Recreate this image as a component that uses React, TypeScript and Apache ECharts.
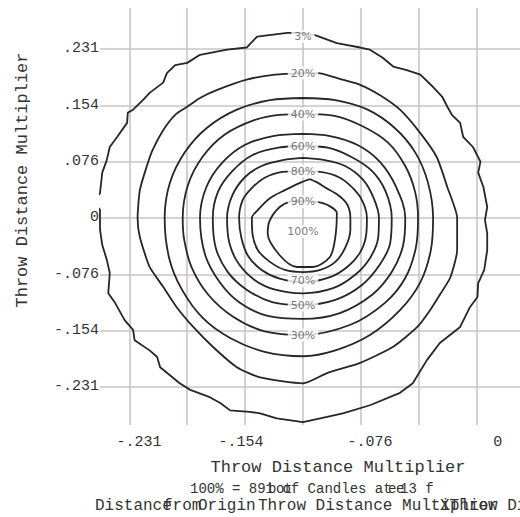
import React, { useEffect, useRef } from 'react';
import * as echarts from 'echarts';

// Grid tick values (Throw Distance Multiplier) and their printed labels
const gridTicks = [-0.231, -0.154, -0.077, 0, 0.077, 0.154, 0.231];
const yTickLabels = ['-.231', '-.154', '-.076', '0', '.076', '.154', '.231'];
// x tick labels as printed (their positions along the axis)
const xLabelValues = [-0.218, -0.0825, 0.089, 0.259];
const xTickLabels = ['-.231', '-.154', '-.076', '0'];

// Contour rings, outermost to innermost: [x, y]
const contour1: [number, number][] = [
  [-0.004, 0.253], [0.016, 0.25], [0.045, 0.239], [0.076, 0.233], [0.089, 0.23], [0.106, 0.219],
  [0.12, 0.207], [0.138, 0.202], [0.156, 0.196], [0.173, 0.179], [0.185, 0.166], [0.192, 0.152],
  [0.198, 0.141], [0.209, 0.13], [0.213, 0.111], [0.226, 0.097], [0.236, 0.077], [0.233, 0.062],
  [0.24, 0.042], [0.245, 0.015], [0.242, -0.003], [0.245, -0.021], [0.245, -0.044], [0.241, -0.071],
  [0.233, -0.089], [0.232, -0.108], [0.222, -0.122], [0.209, -0.149], [0.182, -0.171], [0.165, -0.194],
  [0.146, -0.226], [0.129, -0.239], [0.089, -0.256], [0.053, -0.267], [0.032, -0.272], [0, -0.279],
  [-0.035, -0.274], [-0.057, -0.267], [-0.071, -0.265], [-0.097, -0.263], [-0.11, -0.253], [-0.124, -0.245],
  [-0.15, -0.235], [-0.164, -0.226], [-0.19, -0.204], [-0.194, -0.19], [-0.204, -0.181], [-0.224, -0.167],
  [-0.226, -0.153], [-0.237, -0.14], [-0.25, -0.116], [-0.259, -0.103], [-0.257, -0.075], [-0.261, -0.057],
  [-0.267, -0.037], [-0.27, -0.016], [-0.27, 0], [-0.27, 0.011], [-0.279, 0.022], [-0.27, 0.034],
  [-0.267, 0.062], [-0.261, 0.079], [-0.257, 0.097], [-0.247, 0.111], [-0.234, 0.13], [-0.233, 0.144],
  [-0.226, 0.148], [-0.213, 0.161], [-0.204, 0.171], [-0.186, 0.185], [-0.181, 0.198], [-0.17, 0.209],
  [-0.154, 0.212], [-0.137, 0.223], [-0.101, 0.23], [-0.075, 0.233], [-0.061, 0.248], [-0.021, 0.253],
];
const contour2: [number, number][] = [
  [0, 0.198], [0.02, 0.198], [0.049, 0.19], [0.076, 0.182], [0.102, 0.168], [0.129, 0.148],
  [0.156, 0.116], [0.178, 0.083], [0.192, 0.042], [0.205, 0], [0.205, -0.044], [0.196, -0.081],
  [0.182, -0.105], [0.169, -0.126], [0.152, -0.149], [0.12, -0.176], [0.076, -0.198], [0.032, -0.212],
  [0, -0.226], [-0.057, -0.218], [-0.088, -0.204], [-0.12, -0.176], [-0.146, -0.149], [-0.168, -0.122],
  [-0.186, -0.094], [-0.204, -0.067], [-0.217, -0.026], [-0.22, 0], [-0.217, 0.038], [-0.208, 0.07],
  [-0.2, 0.093], [-0.186, 0.12], [-0.17, 0.141], [-0.154, 0.152], [-0.137, 0.164], [-0.114, 0.175],
  [-0.075, 0.189], [-0.037, 0.196],
];
const contour3: [number, number][] = [
  [0, 0.164], [0.043, 0.161], [0.086, 0.148], [0.122, 0.123], [0.149, 0.09], [0.166, 0.049],
  [0.173, 0], [0.17, -0.044], [0.156, -0.088], [0.129, -0.126], [0.089, -0.16], [0.043, -0.181],
  [0, -0.189], [-0.051, -0.183], [-0.097, -0.164], [-0.133, -0.137], [-0.161, -0.098], [-0.178, -0.055],
  [-0.184, 0], [-0.177, 0.048], [-0.157, 0.09], [-0.128, 0.123], [-0.088, 0.148], [-0.044, 0.161],
];
const contour4: [number, number][] = [
  [0, 0.142], [0.04, 0.14], [0.078, 0.126], [0.113, 0.103], [0.136, 0.071], [0.149, 0.036],
  [0.153, 0], [0.15, -0.041], [0.136, -0.082], [0.109, -0.116], [0.063, -0.146], [0, -0.16],
  [-0.051, -0.155], [-0.093, -0.135], [-0.126, -0.105], [-0.148, -0.068], [-0.158, -0.03], [-0.16, 0],
  [-0.153, 0.045], [-0.134, 0.083], [-0.104, 0.114], [-0.064, 0.134], [-0.031, 0.141],
];
const contour5: [number, number][] = [
  [0, 0.115], [0.036, 0.112], [0.072, 0.1], [0.102, 0.077], [0.124, 0.042], [0.136, 0],
  [0.133, -0.038], [0.118, -0.074], [0.092, -0.105], [0.049, -0.13], [0, -0.138], [-0.047, -0.134],
  [-0.084, -0.116], [-0.11, -0.089], [-0.13, -0.051], [-0.137, 0], [-0.129, 0.041], [-0.108, 0.075],
  [-0.077, 0.1], [-0.04, 0.112],
];
const contour6: [number, number][] = [
  [0, 0.098], [0.033, 0.096], [0.065, 0.083], [0.092, 0.064], [0.11, 0.036], [0.118, 0],
  [0.116, -0.034], [0.102, -0.064], [0.078, -0.092], [0.043, -0.112], [0, -0.119], [-0.041, -0.115],
  [-0.075, -0.098], [-0.1, -0.074], [-0.116, -0.041], [-0.12, 0], [-0.113, 0.036], [-0.094, 0.064],
  [-0.067, 0.086], [-0.033, 0.096],
];
const contour7: [number, number][] = [
  [0, 0.082], [0.029, 0.079], [0.056, 0.071], [0.08, 0.052], [0.094, 0.027], [0.101, 0],
  [0.1, -0.027], [0.089, -0.055], [0.069, -0.078], [0.04, -0.096], [0, -0.103], [-0.037, -0.098],
  [-0.064, -0.085], [-0.086, -0.062], [-0.098, -0.034], [-0.101, 0], [-0.094, 0.031], [-0.077, 0.056],
  [-0.055, 0.071], [-0.027, 0.079],
];
const contour8: [number, number][] = [
  [0, 0.064], [0.023, 0.063], [0.049, 0.055], [0.069, 0.038], [0.08, 0.021], [0.085, 0],
  [0.084, -0.023], [0.076, -0.047], [0.06, -0.066], [0.036, -0.081], [0, -0.088], [-0.031, -0.083],
  [-0.055, -0.071], [-0.073, -0.052], [-0.082, -0.027], [-0.085, 0], [-0.08, 0.025], [-0.068, 0.041],
  [-0.051, 0.055], [-0.027, 0.063],
];
const contour9: [number, number][] = [
  [0.009, 0.053], [-0.004, 0.048], [-0.024, 0.038], [-0.044, 0.027], [-0.06, 0.011], [-0.068, 0],
  [-0.067, -0.023], [-0.06, -0.044], [-0.044, -0.06], [-0.024, -0.071], [0, -0.074], [0.023, -0.071],
  [0.043, -0.06], [0.056, -0.041], [0.063, -0.016], [0.063, 0], [0.059, 0.018], [0.047, 0.031],
  [0.029, 0.042], [0.02, 0.048],
];
const contour10: [number, number][] = [
  [0, 0.023], [0.019, 0.022], [0.032, 0.018], [0.045, 0.007], [0.043, -0.026], [0.036, -0.053],
  [0.013, -0.067], [-0.008, -0.067], [-0.031, -0.051], [-0.047, -0.021], [-0.044, -0.003], [-0.031, 0.015],
  [-0.017, 0.022],
];
const contours = [contour1, contour2, contour3, contour4, contour5, contour6, contour7, contour8, contour9, contour10];
const contourSmooth = [0, 0.2, 0.35, 0.35, 0.35, 0.35, 0.35, 0.35, 0.3, 0.3];

// Contour labels and where they sit
const levelLabels = ['3%', '20%', '40%', '60%', '80%', '90%', '100%', '70%', '50%', '30%'];
const labelXs = [0, 0, 0, 0, 0, 0, 0, 0, 0, 0];
const labelYs = [0.248, 0.198, 0.142, 0.098, 0.064, 0.022, -0.019, -0.086, -0.119, -0.16];

const axisTitle = 'Throw Distance Multiplier';
const footerLine1 = '100% = 891 of Candles at 13 f';

const MONO = '"Liberation Mono", "DejaVu Sans Mono", monospace';

function labelFor(values: number[], labels: string[], v: number) {
  for (let i = 0; i < values.length; i++) {
    if (Math.abs(values[i] - v) < 1e-6) return labels[i];
  }
  return '';
}

export default function App() {
  const ref = useRef<HTMLDivElement>(null);
  useEffect(() => {
    if (!ref.current) return;
    const chart = echarts.init(ref.current, undefined, { renderer: 'svg' });
    const gridColor = '#cbc4c2';
    const series: any[] = contours.map((pts, i) => ({
      type: 'line',
      name: 'c' + i,
      data: [...pts, pts[0]],
      symbol: 'none',
      showSymbol: false,
      smooth: contourSmooth[i],
      clip: false,
      silent: true,
      lineStyle: { color: '#262626', width: 1.8 },
      z: 2,
    }));
    series.push({
      type: 'scatter',
      data: levelLabels.map((t, i) => ({ name: t, value: [labelXs[i], labelYs[i]] })),
      symbolSize: 1,
      itemStyle: { color: 'rgba(255,255,255,0)' },
      silent: true,
      z: 10,
      label: {
        show: true,
        position: 'inside',
        formatter: (p: any) => p.name,
        backgroundColor: '#ffffff',
        color: '#555555',
        fontSize: 11,
        fontFamily: '"DejaVu Sans", sans-serif',
        padding: [1, 3, 1, 3],
      },
    });
    chart.setOption({
      animation: false,
      backgroundColor: '#ffffff',
      grid: { left: 100, right: 0, top: 8, bottom: 92, containLabel: false },
      xAxis: [
        {
          type: 'value',
          min: -0.27,
          max: 0.2886,
          axisLine: { show: false },
          axisTick: { show: false, customValues: gridTicks },
          axisLabel: { show: false },
          splitLine: { show: true, lineStyle: { color: gridColor, width: 1.6 } },
        },
        {
          type: 'value',
          min: -0.27,
          max: 0.2886,
          position: 'bottom',
          axisLine: { show: false },
          axisTick: { show: false, customValues: xLabelValues },
          splitLine: { show: false },
          axisLabel: {
            show: true,
            customValues: xLabelValues,
            margin: 10,
            color: '#333',
            fontSize: 15,
            fontFamily: MONO,
            formatter: (v: number) => labelFor(xLabelValues, xTickLabels, v),
          },
        },
      ],
      yAxis: {
        type: 'value',
        min: -0.283,
        max: 0.287,
        axisLine: { show: false },
        axisTick: { show: false, customValues: gridTicks },
        splitLine: { show: true, lineStyle: { color: gridColor, width: 1.6 } },
        axisLabel: {
          show: true,
          customValues: gridTicks,
          margin: 1,
          color: '#333',
          fontSize: 15,
          fontFamily: MONO,
          formatter: (v: number) => labelFor(gridTicks, yTickLabels, v),
        },
      },
      graphic: [
        {
          type: 'text',
          x: 22,
          y: 180,
          rotation: Math.PI / 2,
          style: { text: axisTitle, font: '17px ' + MONO, fill: '#333', align: 'center', verticalAlign: 'middle' },
        },
        {
          type: 'text',
          x: 338,
          y: 467,
          style: { text: axisTitle, font: '17px ' + MONO, fill: '#333', align: 'center', verticalAlign: 'middle' },
        },
        {
          type: 'text',
          x: 190,
          y: 489,
          style: { text: footerLine1, font: '14px ' + MONO, fill: '#333', align: 'left', verticalAlign: 'middle' },
        },
        { type: 'text', x: 268, y: 489, style: { text: 'b', font: '14px ' + MONO, fill: '#333', verticalAlign: 'middle' } },
        { type: 'text', x: 276, y: 489, style: { text: 'o', font: '14px ' + MONO, fill: '#333', verticalAlign: 'middle' } },
        { type: 'text', x: 284, y: 489, style: { text: 't', font: '14px ' + MONO, fill: '#333', verticalAlign: 'middle' } },
        { type: 'text', x: 388, y: 489, style: { text: 'e', font: '14px ' + MONO, fill: '#333', verticalAlign: 'middle' } },
        { type: 'text', x: 396, y: 489, style: { text: 'e', font: '14px ' + MONO, fill: '#333', verticalAlign: 'middle' } },
        { type: 'text', x: 95, y: 506, style: { text: 'Distance', font: '16px ' + MONO, fill: '#333', verticalAlign: 'middle' } },
        { type: 'text', x: 163, y: 506, style: { text: 'from', font: '16px ' + MONO, fill: '#333', verticalAlign: 'middle' } },
        { type: 'text', x: 198, y: 506, style: { text: 'Origin', font: '16px ' + MONO, fill: '#333', verticalAlign: 'middle' } },
        { type: 'text', x: 258, y: 506, style: { text: 'Throw Distance Multiplier', font: '16px ' + MONO, fill: '#333', verticalAlign: 'middle' } },
        { type: 'text', x: 440, y: 506, style: { text: 'XThrow Distance', font: '16px ' + MONO, fill: '#333', verticalAlign: 'middle' } },
      ],
      series,
    });
    return () => chart.dispose();
  }, []);
  return <div ref={ref} style={{ position: 'fixed', left: 0, top: 0, width: 520, height: 517 }} />;
}
